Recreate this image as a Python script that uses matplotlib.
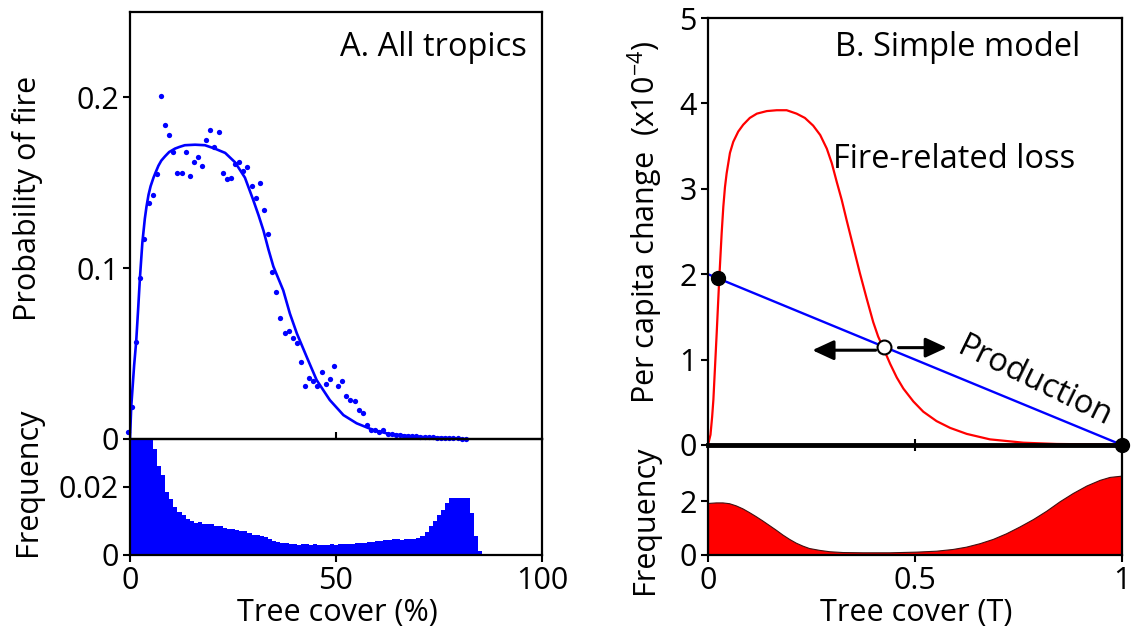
import numpy as np
import matplotlib
matplotlib.use("Agg")
import matplotlib.pyplot as plt

plt.rcParams['font.family'] = ['Open Sans', 'DejaVu Sans']
plt.rcParams['mathtext.fontset'] = 'custom'
plt.rcParams['mathtext.rm'] = 'Open Sans'
plt.rcParams['mathtext.it'] = 'Open Sans'

# ---- panel A: fire probability per 1% tree-cover bin
bin_x = np.arange(-0.5, 82, 1.0)
fire_prob = [0.004, 0.019, 0.057, 0.094, 0.117, 0.138, 0.143, 0.155, 0.201, 0.184,
             0.178, 0.168, 0.156, 0.156, 0.168, 0.154, 0.162, 0.165, 0.160, 0.175,
             0.181, 0.171, 0.180, 0.156, 0.152, 0.153, 0.161, 0.162, 0.157, 0.159,
             0.148, 0.141, 0.150, 0.134, 0.120, 0.098, 0.086, 0.071, 0.062, 0.063,
             0.059, 0.056, 0.045, 0.031, 0.036, 0.034, 0.031, 0.039, 0.032, 0.035,
             0.043, 0.031, 0.034, 0.025, 0.023, 0.022, 0.017, 0.015, 0.008, 0.005,
             0.005, 0.004, 0.005, 0.003, 0.0027, 0.0025, 0.0022, 0.002, 0.0018, 0.0016,
             0.0015, 0.0013, 0.0012, 0.001, 0.0009, 0.0008, 0.0007, 0.0006, 0.0005, 0.0004,
             0.0003, 0.0002, 0.0002]

fit_x = [0, 0.3, 1.0, 1.5, 2.0, 2.4, 3.0, 3.6, 4.0, 4.5, 5.0, 5.7, 6.2, 6.9, 7.6,
         8.5, 9.5, 10.9, 12.0, 13.3, 15.8, 18.2, 20.6, 23.1, 25.5, 27.9, 29.9,
         31.2, 32.4, 33.6, 34.8, 36.0, 37.2, 38.8, 40.5, 42.9, 45.3, 48.5, 51.8,
         55, 59, 63, 69.6, 79.3]
fit_y = [0.0, 0.019, 0.043, 0.057, 0.077, 0.094, 0.115, 0.129, 0.136, 0.143,
         0.148, 0.153, 0.156, 0.160, 0.163, 0.1655, 0.168, 0.170, 0.171, 0.172,
         0.1723, 0.172, 0.170, 0.1675, 0.162, 0.153, 0.140, 0.131, 0.122, 0.111,
         0.101, 0.094, 0.087, 0.0735, 0.0618, 0.048, 0.0345, 0.0228, 0.014,
         0.0092, 0.0053, 0.0029, 0.0013, 0.0004]

hist_x = np.arange(0, 86)
hist_freq = [0.05, 0.046, 0.043, 0.04, 0.038, 0.036, 0.031, 0.026, 0.0235, 0.0185,
             0.0164, 0.014, 0.0125, 0.0116, 0.0105, 0.0101, 0.0093, 0.0096, 0.0091, 0.0091,
             0.009, 0.0085, 0.0084, 0.0079, 0.0076, 0.0075, 0.0073, 0.007, 0.0069, 0.0064,
             0.006, 0.0059, 0.0057, 0.0052, 0.0046, 0.0041, 0.0038, 0.0035, 0.0034, 0.0032,
             0.0031, 0.003, 0.0032, 0.0031, 0.003, 0.0031, 0.003, 0.003, 0.003, 0.0031,
             0.003, 0.0031, 0.0031, 0.0032, 0.0033, 0.0034, 0.0035, 0.0036, 0.0037, 0.0038,
             0.004, 0.0041, 0.0043, 0.0045, 0.0046, 0.0046, 0.0045, 0.0046, 0.0048, 0.0048,
             0.0049, 0.0055, 0.0066, 0.0085, 0.0101, 0.0116, 0.0132, 0.0152, 0.0166, 0.0166,
             0.0166, 0.0166, 0.0166, 0.0122, 0.0055, 0.0011]

# ---- panel B: simple model
loss_T = [0, 0.006, 0.01, 0.013, 0.021, 0.027, 0.033, 0.037, 0.041, 0.045, 0.053,
          0.061, 0.073, 0.085, 0.101, 0.118, 0.142, 0.166, 0.19, 0.214, 0.234,
          0.254, 0.271, 0.287, 0.299, 0.311, 0.323, 0.335, 0.351, 0.367, 0.383,
          0.399, 0.411, 0.424, 0.44, 0.456, 0.472, 0.496, 0.52, 0.552, 0.585,
          0.625, 0.681, 0.762, 0.842, 1.0]
loss_val = [0, 0.12, 0.33, 0.53, 1.31, 1.93, 2.48, 2.79, 3.02, 3.18, 3.42,
            3.55, 3.67, 3.75, 3.83, 3.88, 3.91, 3.92, 3.92, 3.88, 3.83,
            3.74, 3.63, 3.47, 3.30, 3.08, 2.87, 2.63, 2.32, 2.01, 1.72,
            1.44, 1.27, 1.13, 0.95, 0.79, 0.66, 0.51, 0.39, 0.28, 0.20,
            0.13, 0.066, 0.027, 0.012, 0.004]

prod_T = [0, 1]
prod_val = [2.0, 0.0]

stable_T = [0.024, 1.0]
stable_val = [1.95, 0.0]
unstable_T = [0.425]
unstable_val = [1.15]

dens_T = [0, 0.019, 0.035, 0.051, 0.067, 0.083, 0.099, 0.115, 0.131, 0.148, 0.164,
          0.18, 0.196, 0.212, 0.228, 0.244, 0.269, 0.293, 0.325, 0.373, 0.438,
          0.502, 0.551, 0.591, 0.623, 0.656, 0.688, 0.72, 0.752, 0.785, 0.817,
          0.849, 0.881, 0.914, 0.946, 0.97, 1.0]
dens_val = [1.94, 1.96, 1.96, 1.93, 1.85, 1.74, 1.6, 1.45, 1.29, 1.11, 0.94,
            0.76, 0.6, 0.46, 0.35, 0.26, 0.19, 0.14, 0.11, 0.10, 0.10,
            0.125, 0.16, 0.225, 0.31, 0.44, 0.6, 0.81, 1.06, 1.34, 1.65,
            2.0, 2.31, 2.59, 2.8, 2.91, 2.96]

W, H = 1136, 634
fig = plt.figure(figsize=(W / 100, H / 100), dpi=100)

def box(l, t, r, b):
    return [l / W, 1 - b / H, (r - l) / W, (b - t) / H]

axA = fig.add_axes(box(130, 12, 542, 439))
axAh = fig.add_axes(box(130, 439, 542, 555))
axB = fig.add_axes(box(708, 18, 1122, 445))
axBh = fig.add_axes(box(708, 445, 1122, 555))

fs_tick = 22
fs_lab = 22
fs_note = 23.5
for ax in (axA, axAh, axB, axBh):
    for s in ax.spines.values():
        s.set_linewidth(1.6)
    ax.tick_params(direction='out', length=5, width=1.5, labelsize=fs_tick, pad=3)
for ax in (axAh, axBh):
    ax.set_facecolor('none')

# A top
axA.plot(fit_x, fit_y, color='blue', lw=1.9)
axA.plot(bin_x, fire_prob, 'o', color='blue', ms=3.8, mew=0, clip_on=False)
axA.set_xlim(0, 100)
axA.set_ylim(0, 0.25)
axA.set_yticks([0, 0.1, 0.2])
axA.set_yticklabels(['0', '0.1', '0.2'])
axA.set_xticks([50])
axA.tick_params(axis='x', direction='in', labelbottom=False)
axA.text(0.964, 0.916, 'A. All tropics', transform=axA.transAxes, ha='right',
         va='center', fontsize=fs_note)

# A bottom
axAh.bar(hist_x, hist_freq, width=1, color='blue', linewidth=0)
axAh.set_xlim(0, 100)
axAh.set_ylim(0, 0.034)
axAh.set_yticks([0, 0.02])
axAh.set_yticklabels(['0', '0.02'])
axAh.set_xticks([0, 50, 100])

# B top
axB.plot(loss_T, loss_val, color='red', lw=1.6)
axB.plot(prod_T, prod_val, color='blue', lw=1.7)
axB.plot(stable_T, stable_val, 'o', color='black', ms=10, clip_on=False, zorder=5)
axB.plot(unstable_T, unstable_val, 'o', mfc='white', mec='black', mew=1.5, ms=10,
         zorder=5)
arrow = dict(arrowstyle='-|>,head_length=1.3,head_width=0.6', color='black', lw=2.2,
             shrinkA=0, shrinkB=0)
axB.annotate('', xy=(0.252, 1.11), xytext=(0.405, 1.11), arrowprops=arrow)
axB.annotate('', xy=(0.577, 1.14), xytext=(0.46, 1.14), arrowprops=arrow)
axB.set_xlim(0, 1)
axB.set_ylim(0, 5)
axB.set_yticks([0, 1, 2, 3, 4, 5])
axB.set_xticks([0.5])
axB.tick_params(axis='x', direction='inout', length=8, labelbottom=False)
axB.spines['bottom'].set_linewidth(3.5)
axB.text(0.899, 0.93, 'B. Simple model', transform=axB.transAxes, ha='right',
         va='center', fontsize=fs_note)
axB.text(0.302, 3.34, 'Fire-related loss', ha='left', va='center', fontsize=fs_note)
axB.text(0.79, 0.74, 'Production', rotation=-26, rotation_mode='anchor',
         ha='center', va='center', fontsize=fs_note)

# B bottom
axBh.fill_between(dens_T, dens_val, color='red', edgecolor='#401010', lw=0.8)
axBh.set_xlim(0, 1)
axBh.set_ylim(0, 4.1)
axBh.set_yticks([0, 2])
axBh.set_xticks([0, 0.5, 1])
axBh.set_xticklabels(['0', '0.5', '1'])
axBh.spines['top'].set_visible(False)

# axis titles
fig.text(28 / W, 1 - 198 / H, 'Probability of fire', rotation=90, ha='center',
         va='center', fontsize=fs_lab)
fig.text(28 / W, 1 - 482 / H, 'Frequency', rotation=90, ha='center',
         va='center', fontsize=fs_lab)
fig.text(337 / W, 1 - 613 / H, 'Tree cover (%)', ha='center', va='center',
         fontsize=fs_lab)
fig.text(645 / W, 1 - 222 / H, r'Per capita change  (x10$^{-4}$)', rotation=90,
         ha='center', va='center', fontsize=fs_lab)
fig.text(645 / W, 1 - 520 / H, 'Frequency', rotation=90, ha='center',
         va='center', fontsize=fs_lab)
fig.text(916 / W, 1 - 613 / H, 'Tree cover (T)', ha='center', va='center',
         fontsize=fs_lab)

fig.savefig('out.png', dpi=100)
